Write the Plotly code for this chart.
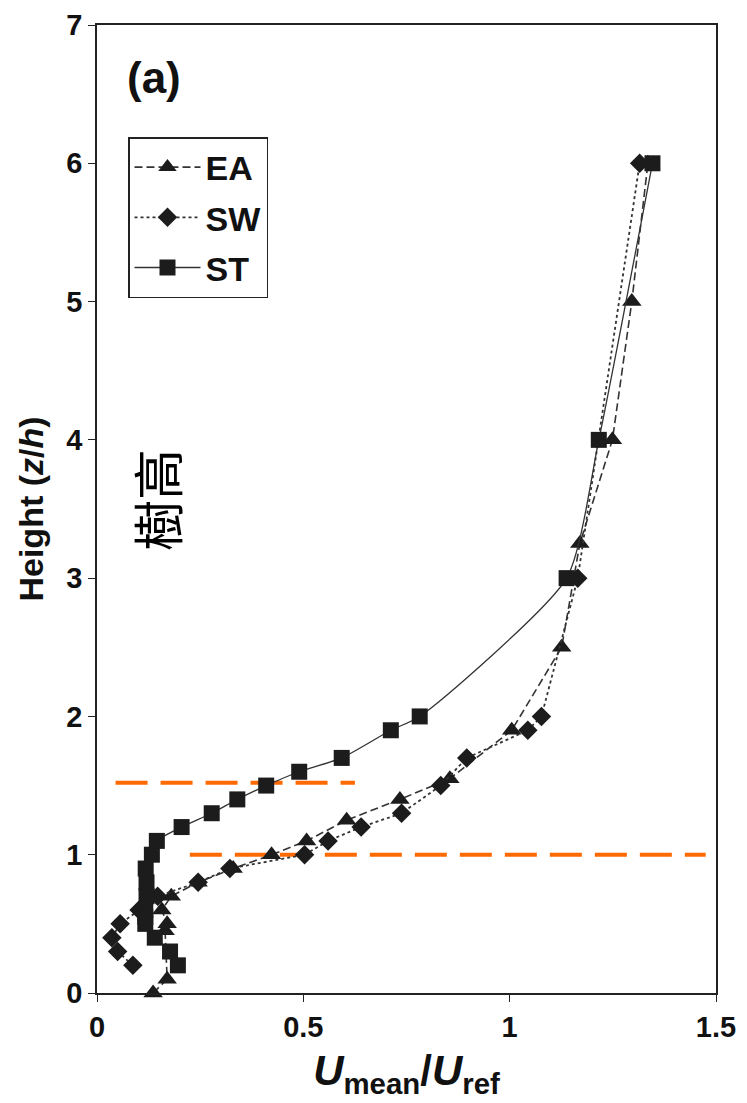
import plotly.graph_objects as go

# ---- data (U_mean/U_ref, z/h) ----
ea_u = [0.136, 0.17, 0.165, 0.17, 0.157, 0.18, 0.245, 0.33, 0.423, 0.508, 0.605, 0.734, 0.855, 1.005, 1.126, 1.17, 1.249, 1.296, 1.335]
ea_z = [0.0, 0.1, 0.45, 0.5, 0.6, 0.7, 0.8, 0.9, 1.0, 1.1, 1.25, 1.4, 1.55, 1.9, 2.5, 3.25, 4.0, 5.0, 6.0]

sw_u = [0.087, 0.05, 0.036, 0.056, 0.102, 0.147, 0.245, 0.322, 0.503, 0.56, 0.64, 0.738, 0.833, 0.896, 1.044, 1.077, 1.165, 1.315]
sw_z = [0.2, 0.3, 0.4, 0.5, 0.6, 0.7, 0.8, 0.9, 1.0, 1.1, 1.2, 1.3, 1.5, 1.7, 1.9, 2.0, 3.0, 6.0]

st_u = [0.196, 0.177, 0.14, 0.117, 0.117, 0.117, 0.12, 0.12, 0.118, 0.133, 0.145, 0.205, 0.278, 0.34, 0.41, 0.49, 0.593, 0.712, 0.782, 1.138, 1.216, 1.346]
st_z = [0.2, 0.3, 0.4, 0.5, 0.55, 0.6, 0.7, 0.8, 0.9, 1.0, 1.1, 1.2, 1.3, 1.4, 1.5, 1.6, 1.7, 1.9, 2.0, 3.0, 4.0, 6.0]

# reference (orange dashed) lines: x extents and heights
ref1_u = [0.045, 0.625]
ref1_z = [1.52, 1.52]
ref2_u = [0.225, 1.475]
ref2_z = [1.0, 1.0]

x_ticks = [0, 0.5, 1, 1.5]
x_ticklabels = ["0", "0.5", "1", "1.5"]
y_ticks = [0, 1, 2, 3, 4, 5, 6, 7]

DARK = "#1c1c1c"
FONT = "Liberation Sans, Arial, sans-serif"

fig = go.Figure()

fig.add_trace(go.Scatter(x=ref1_u, y=ref1_z, mode="lines", showlegend=False,
                         line=dict(color="#ff6a00", width=4, dash="32px,13px"), hoverinfo="skip"))
fig.add_trace(go.Scatter(x=ref2_u, y=ref2_z, mode="lines", showlegend=False,
                         line=dict(color="#ff6a00", width=4, dash="32px,13px"), hoverinfo="skip"))

fig.add_trace(go.Scatter(x=ea_u, y=ea_z, mode="lines+markers", name="EA", legendgroup="a",
                         line=dict(color="#333333", width=1.6, dash="8px,4px"),
                         marker=dict(symbol="triangle-up", size=17, color=DARK),
                         cliponaxis=False))
fig.add_trace(go.Scatter(x=sw_u, y=sw_z, mode="lines+markers", name="SW", legendgroup="b",
                         line=dict(color="#333333", width=1.8, dash="dot"),
                         marker=dict(symbol="diamond", size=15, color=DARK),
                         cliponaxis=False))
fig.add_trace(go.Scatter(x=st_u, y=st_z, mode="lines+markers", name="ST", legendgroup="c",
                         line=dict(color="#333333", width=1.3, shape="spline", smoothing=0.6),
                         marker=dict(symbol="square", size=16, color=DARK),
                         cliponaxis=False))

plot_w = 747 - 97 - 31
plot_h = 1103 - 25 - 110

fig.update_layout(
    width=747, height=1103,
    margin=dict(l=97, r=31, t=25, b=110),
    paper_bgcolor="white", plot_bgcolor="white",
    font=dict(family=FONT, color="#111111"),
    legend=dict(x=(128 - 97) / plot_w, y=(993 - 137) / plot_h, xanchor="left", yanchor="top",
                bordercolor="#222222", borderwidth=1.5, bgcolor="white",
                font=dict(size=34, family=FONT, weight="bold"),
                tracegroupgap=3, itemwidth=66),
    xaxis=dict(range=[0, 1.5], tickvals=x_ticks, ticktext=x_ticklabels, automargin=False,
               showgrid=False, zeroline=False, showline=True, linecolor="#222222", linewidth=1.5,
               mirror=True, ticks="outside", ticklen=7, tickcolor="#222222",
               tickfont=dict(size=29, family=FONT, weight="bold"),
               title=dict(text="<i>U</i><sub>mean</sub>/<i>U</i><sub>ref</sub>",
                          font=dict(size=42, family=FONT, weight="bold"), standoff=14)),
    yaxis=dict(range=[0, 7], tickvals=y_ticks, automargin=False,
               showgrid=False, zeroline=False, showline=True, linecolor="#222222", linewidth=1.5,
               mirror=True, ticks="outside", ticklen=7, tickcolor="#222222",
               tickfont=dict(size=29, family=FONT, weight="bold"),
               title=dict(text="Height (<i>z</i>/<i>h</i>)",
                          font=dict(size=34, family=FONT, weight="bold"), standoff=12)),
    annotations=[
        dict(text="(a)", x=(125 - 97) / plot_w, y=(993 - 51) / plot_h, xref="paper", yref="paper",
             xanchor="left", yanchor="top",
             showarrow=False, font=dict(size=44, family=FONT, weight="bold")),
        dict(text="樹高", x=(156 - 97) / plot_w, y=(993 - 500) / plot_h, xref="paper", yref="paper",
             xanchor="center", yanchor="middle", showarrow=False,
             textangle=-90, font=dict(size=51, family="Noto Sans CJK TC", color="black")),
    ],
)

fig.write_html("out.html")
